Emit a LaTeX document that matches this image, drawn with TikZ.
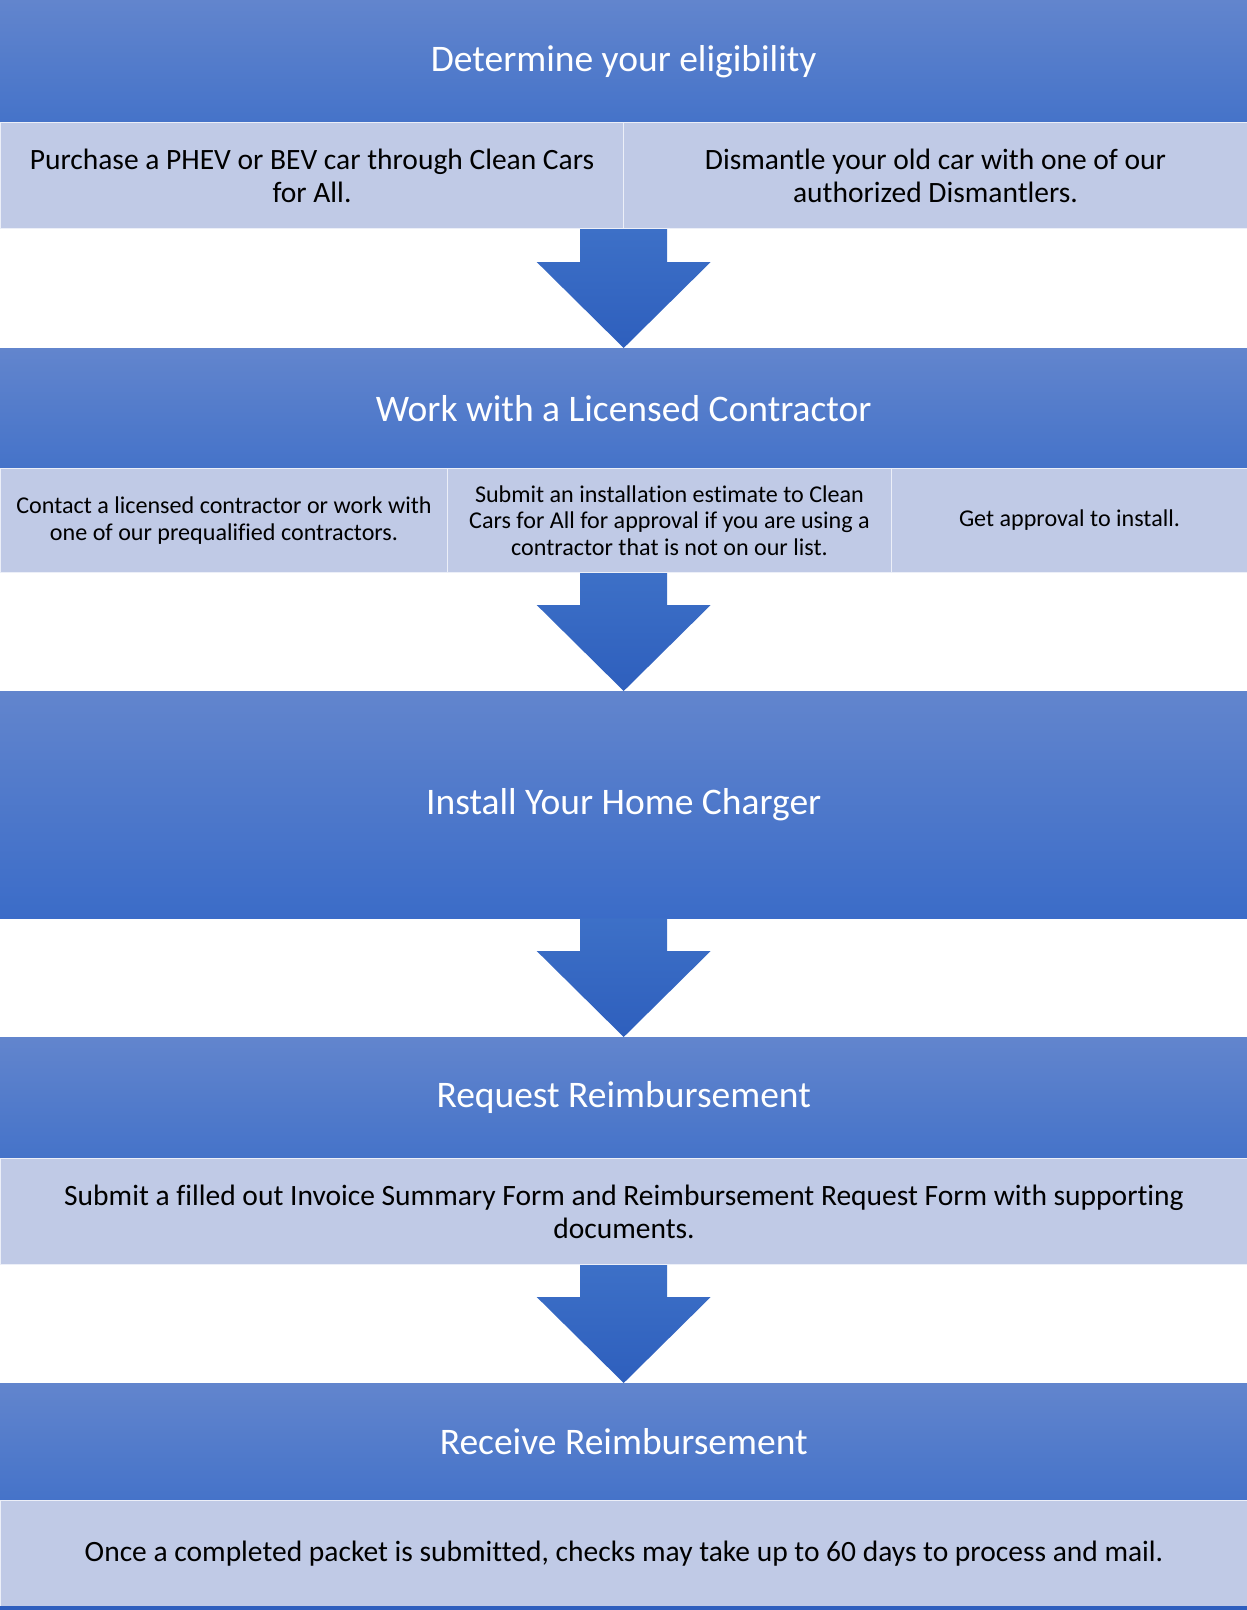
\documentclass[tikz,border=0pt]{standalone}
\usepackage{fontspec}
\setmainfont{Carlito}[Ligatures=NoCommon]
\usetikzlibrary{calc}
\definecolor{tTop}{HTML}{6285CD}
\definecolor{tBot}{HTML}{4573C9}
\definecolor{tBotB}{HTML}{3B6CC8}
\definecolor{subfill}{HTML}{C0CAE6}
\definecolor{aTop}{HTML}{3D70C7}
\definecolor{aBot}{HTML}{2E5FBD}
\definecolor{stripc}{HTML}{2E5EBE}
\tikzset{
  titlebox/.style={rectangle, anchor=north west, inner sep=0pt, minimum width=1247pt,
    top color=tTop, bottom color=tBot, draw=none, text=white,
    font=\fontsize{37.5}{44}\selectfont},
  subbox/.style={rectangle, anchor=north west, inner sep=0pt, fill=subfill,
    draw=white!70!subfill, line width=1pt, text=black, align=center},
  bigtext/.style={font=\fontsize{29.5}{33}\selectfont},
  smalltext/.style={font=\fontsize{24.1}{26.5}\selectfont},
  blockarrow/.style={top color=aTop, bottom color=aBot, draw=none},
  stripbox/.style={rectangle, anchor=north west, inner sep=0pt, fill=stripc, draw=none},
}
\newcommand{\blockdown}[2]{%
  \path[blockarrow] let \p1=(#1), \p2=(#2) in
    (\x2-43.5pt,\y1) -- (\x2+43.5pt,\y1) -- (\x2+43.5pt,\y2+86pt) -- (\x2+87pt,\y2+86pt)
    -- (\x2,\y2) -- (\x2-87pt,\y2+86pt) -- (\x2-43.5pt,\y2+86pt) -- cycle;}
\begin{document}
\begin{tikzpicture}[x=1pt,y=-1pt]
\useasboundingbox (0,0) rectangle (1247,1610);
% Box 1
\node[titlebox, minimum height=122pt] (t1) at (0,0) {Determine your eligibility};
\node[subbox, bigtext, minimum width=623pt, minimum height=106pt] (s1a) at (0,122)
  {Purchase a PHEV or BEV car through Clean Cars\\for All.};
\node[subbox, bigtext, minimum width=624pt, minimum height=106pt] (s1b) at (623,122)
  {Dismantle your old car with one of our\\authorized Dismantlers.};
% Box 2
\node[titlebox, minimum height=120pt] (t2) at (0,348) {Work with a Licensed Contractor};
\node[subbox, smalltext, minimum width=447pt, minimum height=104pt] (s2a) at (0,468)
  {Contact a licensed contractor or work with\\one of our prequalified contractors.};
\node[subbox, smalltext, minimum width=444pt, minimum height=104pt] (s2b) at (447,468)
  {Submit an installation estimate to Clean\\Cars for All for approval if you are using a\\contractor that is not on our list.};
\node[subbox, smalltext, minimum width=356pt, minimum height=104pt] (s2c) at (891,468)
  {Get approval to install.};
% Box 3
\node[titlebox, minimum height=227pt, bottom color=tBotB] (t3) at (0,691) {Install Your Home Charger};
% Box 4
\node[titlebox, minimum height=121pt] (t4) at (0,1037) {Request Reimbursement};
\node[subbox, bigtext, minimum width=1247pt, minimum height=106pt] (s4) at (0,1158)
  {Submit a filled out Invoice Summary Form and Reimbursement Request Form with supporting\\documents.};
% Box 5
\node[titlebox, minimum height=117pt] (t5) at (0,1383) {Receive Reimbursement};
\node[subbox, bigtext, minimum width=1247pt, minimum height=106pt] (s5) at (0,1500)
  {Once a completed packet is submitted, checks may take up to 60 days to process and mail.};
\node[stripbox, minimum width=1247pt, minimum height=4pt] (strip) at (0,1606) {};
% Arrows
\blockdown{s1a.south east}{t2.north}
\blockdown{s2a.south -| t1.south}{t3.north}
\blockdown{t3.south}{t4.north}
\blockdown{s4.south}{t5.north}
\end{tikzpicture}
\end{document}
